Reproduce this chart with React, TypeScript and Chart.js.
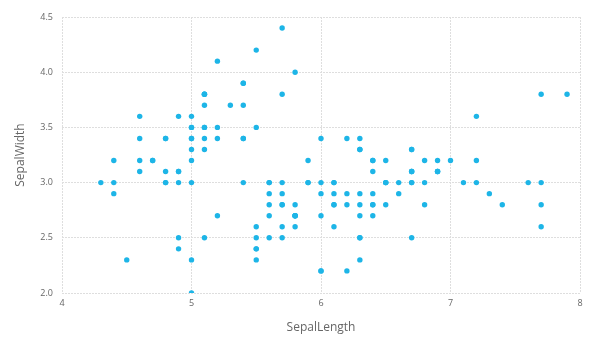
import React, { useEffect, useRef } from "react";
import { Chart, registerables } from "chart.js";

Chart.register(...registerables);

const sepalLength: number[] = [
  5.1, 4.9, 4.7, 4.6, 5.0, 5.4, 4.6, 5.0, 4.4, 4.9, 5.4, 4.8, 4.8, 4.3, 5.8, 5.7, 5.4, 5.1, 5.7, 5.1,
  5.4, 5.1, 4.6, 5.1, 4.8, 5.0, 5.0, 5.2, 5.2, 4.7, 4.8, 5.4, 5.2, 5.5, 4.9, 5.0, 5.5, 4.9, 4.4, 5.1,
  5.0, 4.5, 4.4, 5.0, 5.1, 4.8, 5.1, 4.6, 5.3, 5.0,
  7.0, 6.4, 6.9, 5.5, 6.5, 5.7, 6.3, 4.9, 6.6, 5.2, 5.0, 5.9, 6.0, 6.1, 5.6, 6.7, 5.6, 5.8, 6.2, 5.6,
  5.9, 6.1, 6.3, 6.1, 6.4, 6.6, 6.8, 6.7, 6.0, 5.7, 5.5, 5.5, 5.8, 6.0, 5.4, 6.0, 6.7, 6.3, 5.6, 5.5,
  5.5, 6.1, 5.8, 5.0, 5.6, 5.7, 5.7, 6.2, 5.1, 5.7,
  6.3, 5.8, 7.1, 6.3, 6.5, 7.6, 4.9, 7.3, 6.7, 7.2, 6.5, 6.4, 6.8, 5.7, 5.8, 6.4, 6.5, 7.7, 7.7, 6.0,
  6.9, 5.6, 7.7, 6.3, 6.7, 7.2, 6.2, 6.1, 6.4, 7.2, 7.4, 7.9, 6.4, 6.3, 6.1, 7.7, 6.3, 6.4, 6.0, 6.9,
  6.7, 6.9, 5.8, 6.8, 6.7, 6.7, 6.3, 6.5, 6.2, 5.9,
];

const sepalWidth: number[] = [
  3.5, 3.0, 3.2, 3.1, 3.6, 3.9, 3.4, 3.4, 2.9, 3.1, 3.7, 3.4, 3.0, 3.0, 4.0, 4.4, 3.9, 3.5, 3.8, 3.8,
  3.4, 3.7, 3.6, 3.3, 3.4, 3.0, 3.4, 3.5, 3.4, 3.2, 3.1, 3.4, 4.1, 4.2, 3.1, 3.2, 3.5, 3.6, 3.0, 3.4,
  3.5, 2.3, 3.2, 3.5, 3.8, 3.0, 3.8, 3.2, 3.7, 3.3,
  3.2, 3.2, 3.1, 2.3, 2.8, 2.8, 3.3, 2.4, 2.9, 2.7, 2.0, 3.0, 2.2, 2.9, 2.9, 3.1, 3.0, 2.7, 2.2, 2.5,
  3.2, 2.8, 2.5, 2.8, 2.9, 3.0, 2.8, 3.0, 2.9, 2.6, 2.4, 2.4, 2.7, 2.7, 3.0, 3.4, 3.1, 2.3, 3.0, 2.5,
  2.6, 3.0, 2.6, 2.3, 2.7, 3.0, 2.9, 2.9, 2.5, 2.8,
  3.3, 2.7, 3.0, 2.9, 3.0, 3.0, 2.5, 2.9, 2.5, 3.6, 3.2, 2.7, 3.0, 2.5, 2.8, 3.2, 3.0, 3.8, 2.6, 2.2,
  3.2, 2.8, 2.8, 2.7, 3.3, 3.2, 2.8, 3.0, 2.8, 3.0, 2.8, 3.8, 2.8, 2.8, 2.6, 3.0, 3.4, 3.1, 3.0, 3.1,
  3.1, 3.1, 2.7, 3.2, 3.3, 3.0, 2.5, 3.0, 3.4, 3.0,
];

const xTitle = "SepalLength";
const yTitle = "SepalWidth";

export default function App() {
  const ref = useRef<HTMLCanvasElement>(null);
  useEffect(() => {
    document.body.style.margin = "0";
    const ctx = ref.current!;
    const points = sepalLength.map((x, i) => ({ x, y: sepalWidth[i] }));
    const chart = new Chart(ctx, {
      type: "scatter",
      data: {
        datasets: [
          {
            data: points,
            backgroundColor: "#1db5e7",
            borderColor: "#1db5e7",
            pointRadius: 2.7,
            pointHoverRadius: 2.7,
            borderWidth: 0,
          },
        ],
      },
      options: {
        animation: false,
        responsive: false,
        maintainAspectRatio: false,
        layout: { padding: { top: 17, right: 20, left: 0, bottom: 18 } },
        plugins: { legend: { display: false }, tooltip: { enabled: false } },
        scales: {
          x: {
            type: "linear",
            min: 4,
            max: 8,
            ticks: {
              stepSize: 1,
              color: "#666",
              font: { family: "Open Sans", size: 9 },
              padding: 5,
            },
            grid: { color: "#dedede", drawTicks: false, lineWidth: 1 },
            border: { display: false, dash: [2, 1] },
            title: {
              display: true,
              text: xTitle,
              color: "#666",
              font: { family: "Open Sans", size: 12 },
              padding: { top: 0, bottom: 0 },
            },
            afterFit: (s: any) => {
              s.height = 42;
            },
          },
          y: {
            type: "linear",
            min: 2,
            max: 4.5,
            ticks: {
              stepSize: 0.5,
              color: "#666",
              font: { family: "Open Sans", size: 9 },
              padding: 9,
              callback: (v: any) => Number(v).toFixed(1),
            },
            grid: { color: "#dedede", drawTicks: false, lineWidth: 1 },
            border: { display: false, dash: [2, 1] },
            title: {
              display: true,
              text: yTitle,
              color: "#666",
              font: { family: "Open Sans", size: 12 },
              padding: { top: 13, bottom: 0 },
            },
            afterFit: (s: any) => {
              s.width = 62;
            },
          },
        },
      },
    });
    return () => chart.destroy();
  }, []);
  return (
    <div style={{ width: 600, height: 353 }}>
      <canvas ref={ref} width={600} height={353} style={{ display: "block" }} />
    </div>
  );
}
